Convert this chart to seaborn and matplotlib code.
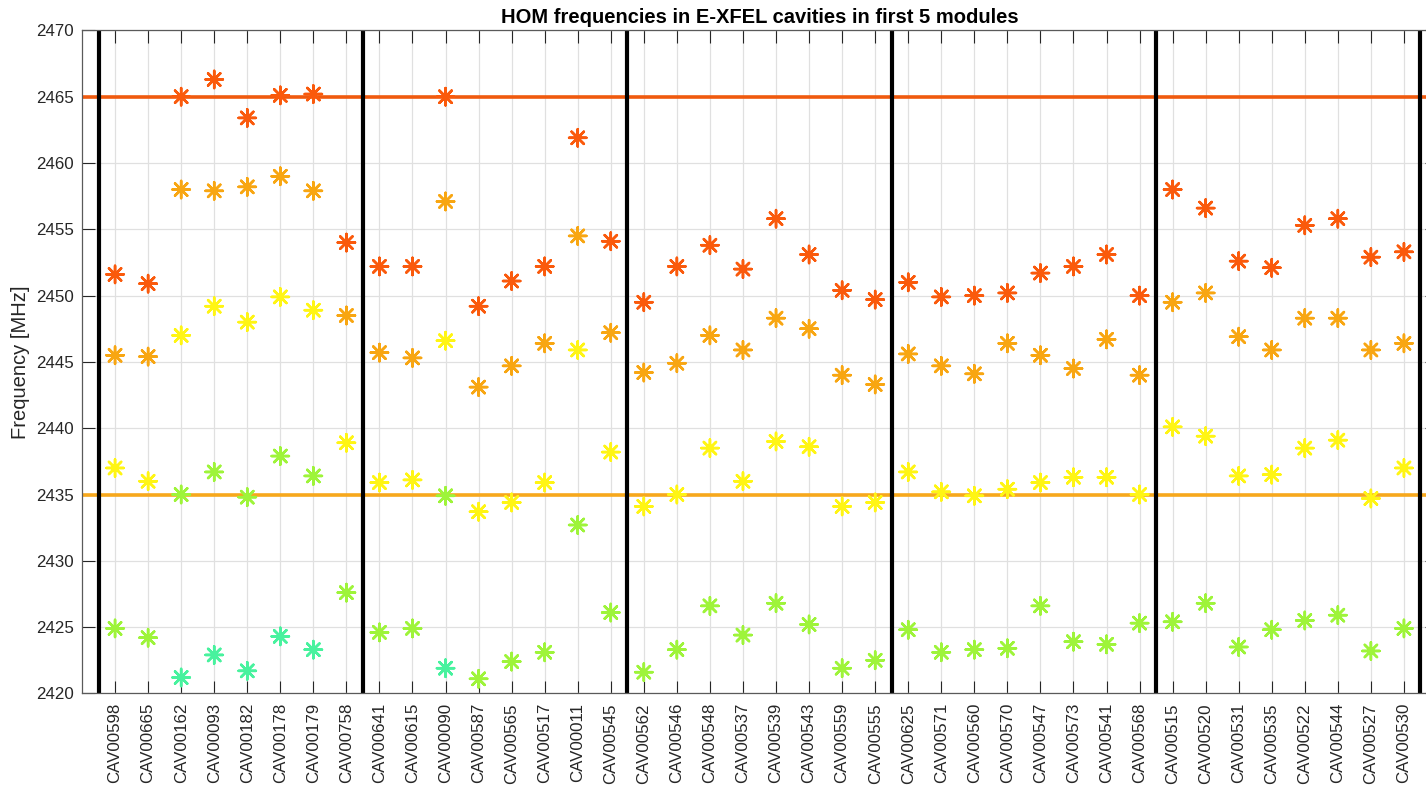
import numpy as np
import pandas as pd
import matplotlib
matplotlib.use("Agg")
import matplotlib.pyplot as plt
import seaborn as sns

# Cavity serial numbers, 8 per cryomodule
cavities = [
    "CAV00598", "CAV00665", "CAV00162", "CAV00093", "CAV00182", "CAV00178", "CAV00179", "CAV00758",
    "CAV00641", "CAV00615", "CAV00090", "CAV00587", "CAV00565", "CAV00517", "CAV00011", "CAV00545",
    "CAV00562", "CAV00546", "CAV00548", "CAV00537", "CAV00539", "CAV00543", "CAV00559", "CAV00555",
    "CAV00625", "CAV00571", "CAV00560", "CAV00570", "CAV00547", "CAV00573", "CAV00541", "CAV00568",
    "CAV00515", "CAV00520", "CAV00531", "CAV00535", "CAV00522", "CAV00544", "CAV00527", "CAV00530",
]

nan = np.nan
# HOM frequencies [MHz], lowest to highest mode of the passband
mode1 = [
    nan, nan, 2421.2, 2422.9, 2421.7, 2424.3, 2423.3, nan,
    nan, nan, 2421.9, nan, nan, nan, nan, nan,
    nan, nan, nan, nan, nan, nan, nan, nan,
    nan, nan, nan, nan, nan, nan, nan, nan,
    nan, nan, nan, nan, nan, nan, nan, nan,
]
mode2 = [
    2424.9, 2424.2, 2435.0, 2436.7, 2434.8, 2437.9, 2436.4, 2427.6,
    2424.6, 2424.9, 2434.9, 2421.1, 2422.4, 2423.1, 2432.7, 2426.1,
    2421.6, 2423.3, 2426.6, 2424.4, 2426.8, 2425.2, 2421.9, 2422.5,
    2424.8, 2423.1, 2423.3, 2423.4, 2426.6, 2423.9, 2423.7, 2425.3,
    2425.4, 2426.8, 2423.5, 2424.8, 2425.5, 2425.9, 2423.2, 2424.9,
]
mode3 = [
    2437.0, 2436.0, 2447.0, 2449.2, 2448.0, 2449.9, 2448.9, 2438.9,
    2435.9, 2436.1, 2446.6, 2433.7, 2434.4, 2435.9, 2445.9, 2438.2,
    2434.1, 2435.0, 2438.5, 2436.0, 2439.0, 2438.6, 2434.1, 2434.4,
    2436.7, 2435.2, 2434.9, 2435.4, 2435.9, 2436.3, 2436.3, 2435.0,
    2440.1, 2439.4, 2436.4, 2436.5, 2438.5, 2439.1, 2434.7, 2437.0,
]
mode4 = [
    2445.5, 2445.4, 2458.0, 2457.9, 2458.2, 2459.0, 2457.9, 2448.5,
    2445.7, 2445.3, 2457.1, 2443.1, 2444.7, 2446.4, 2454.5, 2447.2,
    2444.2, 2444.9, 2447.0, 2445.9, 2448.3, 2447.5, 2444.0, 2443.3,
    2445.6, 2444.7, 2444.1, 2446.4, 2445.5, 2444.5, 2446.7, 2444.0,
    2449.5, 2450.2, 2446.9, 2445.9, 2448.3, 2448.3, 2445.9, 2446.4,
]
mode5 = [
    2451.6, 2450.9, 2465.0, 2466.3, 2463.4, 2465.1, 2465.2, 2454.0,
    2452.2, 2452.2, 2465.0, 2449.2, 2451.1, 2452.2, 2461.9, 2454.1,
    2449.5, 2452.2, 2453.8, 2452.0, 2455.8, 2453.1, 2450.4, 2449.7,
    2451.0, 2449.9, 2450.0, 2450.2, 2451.7, 2452.2, 2453.1, 2450.0,
    2458.0, 2456.6, 2452.6, 2452.1, 2455.3, 2455.8, 2452.9, 2453.3,
]

mode_names = ["mode 1", "mode 2", "mode 3", "mode 4", "mode 5"]
mode_colors = ["#48F29E", "#9EF43A", "#FFF514", "#F8A612", "#FA5A0C"]

upper_limit = 2465
lower_limit = 2435
cavities_per_module = 8

pos = np.arange(1, len(cavities) + 1)
frames = []
for name, vals in zip(mode_names, [mode1, mode2, mode3, mode4, mode5]):
    frames.append(pd.DataFrame({"pos": pos, "cavity": cavities, "freq": vals, "mode": name}))
df = pd.concat(frames, ignore_index=True).dropna()

sns.set_style("white")
plt.rcParams["font.family"] = ["Liberation Sans", "DejaVu Sans"]

W, H = 1426, 785
fig = plt.figure(figsize=(W / 100, H / 100), dpi=100)
ax = fig.add_axes([82 / W, (H - 693.4) / H, 1355 / W, 663 / H])

ax.set_xlim(0, 41)
ax.set_ylim(2420, 2470)

ax.grid(True, color="#e0e0e0", linewidth=0.9, zorder=0)
ax.set_axisbelow(True)

ax.axhline(upper_limit, color="#F05A0E", linewidth=2.6, zorder=2)
ax.axhline(lower_limit, color="#F7A81C", linewidth=2.6, zorder=2)

for b in np.arange(0.5, len(cavities) + 1, cavities_per_module):
    ax.axvline(b, color="black", linewidth=3.0, zorder=2)

sns.scatterplot(
    data=df, x="pos", y="freq", hue="mode", hue_order=mode_names,
    palette=mode_colors, marker=(8, 2, 0), s=155, linewidth=1.8,
    legend=False, ax=ax, zorder=3,
)

ax.set_xticks(pos)
ax.set_xticklabels(cavities, rotation=90, fontsize=12.2, color="#262626")
ax.set_yticks(np.arange(2420, 2471, 5))
ax.set_yticklabels([str(v) for v in range(2420, 2471, 5)], fontsize=12.2, color="#262626")
ax.tick_params(axis="both", direction="in", length=9, width=0.8, color="#262626",
               top=True, right=True, bottom=True, left=True)
ax.tick_params(axis="x", pad=7)
ax.tick_params(axis="y", pad=6)

for sp in ax.spines.values():
    sp.set_color("#5a5a5a")
    sp.set_linewidth(0.9)

ax.set_xlabel("")
ax.set_ylabel("Frequency [MHz]", fontsize=14.5, color="#262626", labelpad=4)
ax.set_title("HOM frequencies in E-XFEL cavities in first 5 modules",
             fontsize=14.5, fontweight="bold", color="black", pad=5)

fig.savefig("out.png", dpi=100)
